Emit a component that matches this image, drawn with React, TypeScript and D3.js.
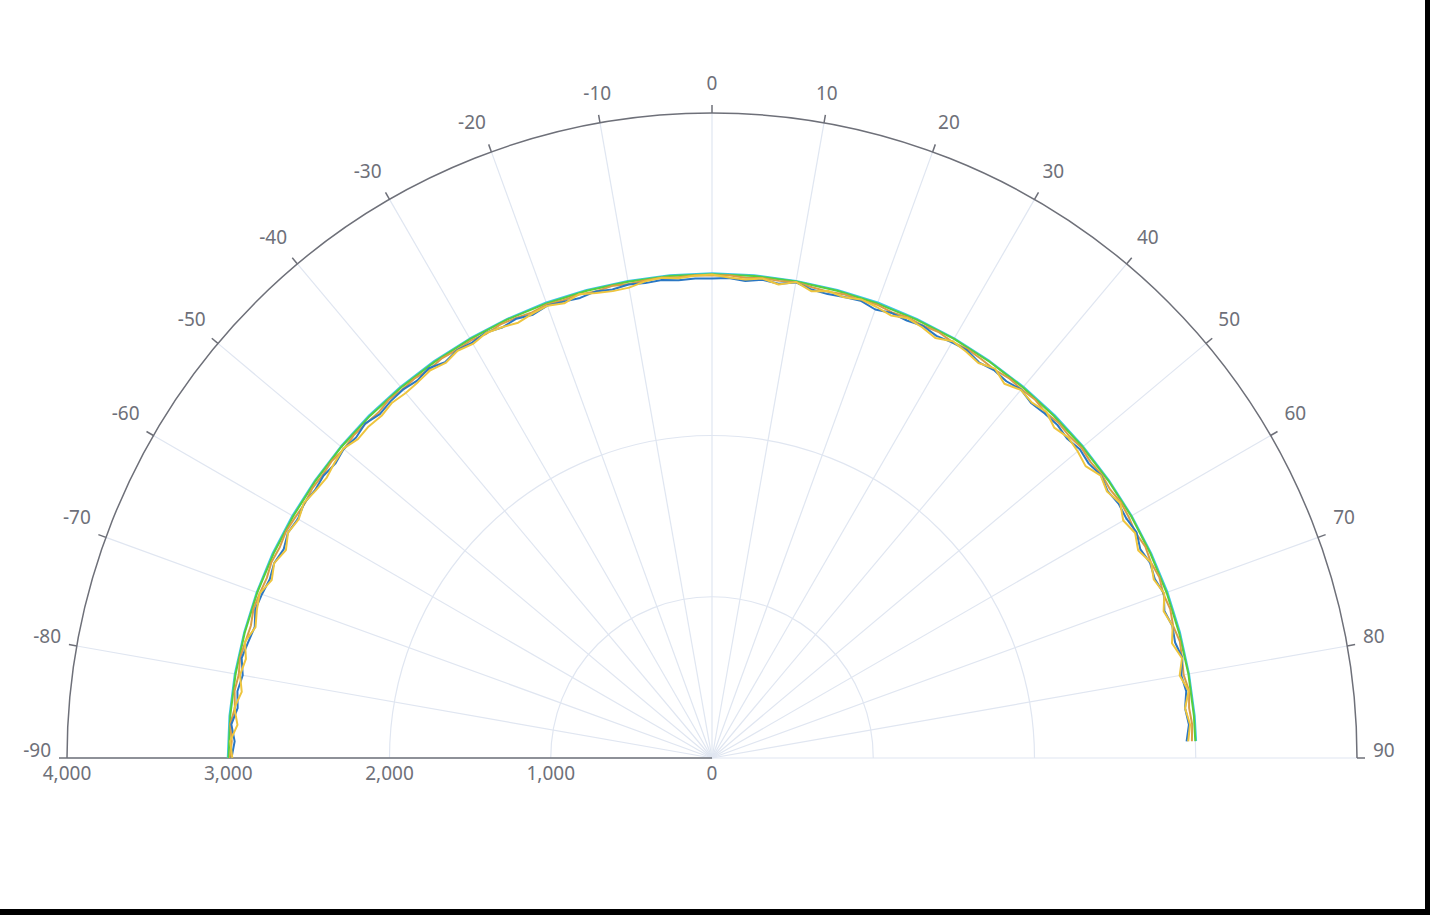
import React from "react";
import * as d3 from "d3";

// ---- data ----
const noisyAngles = [
  -90, -88, -86, -84, -82, -80, -78, -76, -74, -72, -70, -68, -66, -64, -62, -60, -58, -56, -54, -52,
  -50, -48, -46, -44, -42, -40, -38, -36, -34, -32, -30, -28, -26, -24, -22, -20, -18, -16, -14, -12,
  -10, -8, -6, -4, -2, 0, 2, 4, 6, 8, 10, 12, 14, 16, 18, 20, 22, 24, 26, 28,
  30, 32, 34, 36, 38, 40, 42, 44, 46, 48, 50, 52, 54, 56, 58, 60, 62, 64, 66, 68,
  70, 72, 74, 76, 78, 80, 82, 84, 86, 88,
];

const blueValues = [
  2980, 2962, 2988, 2958, 2972, 2955, 2982, 2965, 2950, 2978, 2970, 2958, 2972, 2955, 2978, 2965, 2982, 2970, 2978, 2965,
  2982, 2970, 2988, 2965, 2978, 2982, 2970, 2988, 2960, 2982, 2975, 2988, 2970, 2982, 2965, 2986, 2976, 2968, 2982, 2970,
  2982, 2974, 2980, 2970, 2976, 2974, 2978, 2965, 2982, 2970, 2995, 2970, 2965, 2974, 2982, 2960, 2976, 2970, 2982, 2965,
  2976, 2982, 2960, 2974, 2965, 2982, 2960, 2970, 2976, 2962, 2978, 2965, 2982, 2960, 2974, 2968, 2982, 2955, 2974, 2962,
  2982, 2950, 2970, 2960, 2982, 2955, 2970, 2950, 2965, 2945,
];

const yellowValues = [
  2975, 2990, 2950, 2978, 2945, 2972, 2955, 2985, 2945, 2968, 2985, 2945, 2972, 2940, 2978, 2960, 2985, 2965, 2955, 2972,
  2985, 2955, 2960, 2950, 2965, 2955, 2960, 2972, 2955, 2978, 2965, 2985, 2972, 2955, 2972, 2985, 2965, 2992, 2972, 2960,
  2962, 2985, 2995, 2982, 2992, 2998, 2982, 2975, 2990, 2965, 2998, 2960, 2985, 2972, 2990, 2978, 2960, 2985, 2972, 2950,
  2985, 2972, 2955, 2985, 2945, 2980, 2965, 2985, 2950, 2972, 2960, 2940, 2980, 2955, 2985, 2945, 2972, 2940, 2980, 2955,
  2985, 2945, 2972, 2940, 2980, 2945, 2985, 2950, 2972, 2955,
];

const orangeValues = [
  2990, 2980, 2995, 2975, 2990, 2980, 2992, 2982, 2975, 2990, 2985, 2978, 2990, 2982, 2992, 2985, 2978, 2990, 2985, 2992,
  2980, 2990, 2985, 2978, 2992, 2985, 2990, 2980, 2992, 2985, 2990, 2980, 2992, 2988, 2980, 2993, 2985, 2990, 2982, 2992,
  2985, 2990, 2995, 2988, 2996, 2992, 2995, 2985, 2992, 2988, 2996, 2985, 2980, 2990, 2985, 2992, 2980, 2990, 2984, 2992,
  2980, 2990, 2985, 2978, 2990, 2985, 2992, 2978, 2990, 2982, 2992, 2980, 2988, 2978, 2990, 2985, 2975, 2990, 2980, 2992,
  2978, 2988, 2975, 2990, 2980, 2970, 2988, 2975, 2985, 2978,
];

const smoothAngles = [
  -90, -85, -80, -75, -70, -65, -60, -55, -50, -45, -40, -35, -30, -25, -20, -15, -10, -5, 0,
  5, 10, 15, 20, 25, 30, 35, 40, 45, 50, 55, 60, 65, 70, 75, 80, 85, 88,
];

const greenValues = [
  2998, 2999, 3000, 3000, 3001, 3000, 2999, 3000, 3001, 3000, 3000, 2999, 3000, 3001, 3000, 3000, 2999, 3000, 3000,
  3001, 3000, 3000, 2999, 3000, 3001, 3000, 3000, 2999, 3000, 3000, 3001, 3000, 3000, 2999, 3000, 3000, 2999,
];

const cyanValues = [
  3003, 3004, 3005, 3004, 3005, 3006, 3005, 3004, 3005, 3006, 3005, 3005, 3004, 3005, 3006, 3005, 3004, 3005, 3006,
  3005, 3004, 3005, 3006, 3005, 3005, 3004, 3005, 3006, 3005, 3004, 3005, 3005, 3006, 3005, 3004, 3005, 3004,
];

const angleTicks = [-90, -80, -70, -60, -50, -40, -30, -20, -10, 0, 10, 20, 30, 40, 50, 60, 70, 80, 90];
const radiusTicks = [0, 1000, 2000, 3000, 4000];
const splitRadii = [1000, 2000, 3000];

// ---- layout ----
const W = 1430;
const H = 915;
const cx = 712;
const cy = 758;
const R = 645;
const AXIS = "#6E7079";
const SPLIT = "#E0E6F1";
const FONT = "'Microsoft YaHei', 'Noto Sans', 'Open Sans', sans-serif";
const FS = 19;

const rScale = d3.scaleLinear().domain([0, 4000]).range([0, R]);
const rad = (deg: number) => (deg * Math.PI) / 180;
const polar = (deg: number, r: number): [number, number] => [cx + r * Math.sin(rad(deg)), cy - r * Math.cos(rad(deg))];

const seriesList = [
  { name: "cyan", angles: smoothAngles, values: cyanValues, color: "#3cc6e8", width: 2 },
  { name: "green", angles: smoothAngles, values: greenValues, color: "#55cf3e", width: 2 },
  { name: "orange", angles: noisyAngles, values: orangeValues, color: "#d99e45", width: 2 },
  { name: "blue", angles: noisyAngles, values: blueValues, color: "#2a77c4", width: 2 },
  { name: "yellow", angles: noisyAngles, values: yellowValues, color: "#eec53e", width: 2 },
];

const lineGen = d3
  .lineRadial<[number, number]>()
  .angle((d) => rad(d[0]))
  .radius((d) => rScale(d[1]))
  .curve(d3.curveLinear);

const arcGen = (r: number) =>
  d3.arc()({ innerRadius: r, outerRadius: r, startAngle: rad(-90), endAngle: rad(90) }) as string;

const fmt = d3.format(",");

export default function App() {
  const labelR = 661;
  return (
    <div style={{ position: "fixed", left: 0, top: 0, width: W, height: H, background: "#fff" }}>
      <svg width={W} height={H} style={{ display: "block" }}>
        <rect x={0} y={0} width={W} height={H} fill="#fff" />
        {/* split circles */}
        {splitRadii.map((v) => (
          <path
            key={"sc" + v}
            d={arcGen(rScale(v))}
            transform={`translate(${cx},${cy})`}
            fill="none"
            stroke={SPLIT}
            strokeWidth={1.2}
          />
        ))}
        {/* radial split lines */}
        {angleTicks.map((a) => {
          const [x, y] = polar(a, R);
          return <line key={"sl" + a} x1={cx} y1={cy} x2={x} y2={y} stroke={SPLIT} strokeWidth={1.2} />;
        })}
        {/* angle axis arc */}
        <path d={arcGen(R)} transform={`translate(${cx},${cy})`} fill="none" stroke={AXIS} strokeWidth={1.5} />
        {/* angle ticks + labels */}
        {angleTicks.map((a) => {
          const [x1, y1] = polar(a, R);
          const [x2, y2] = polar(a, R + 8);
          const [lx, ly] = polar(a, labelR);
          const relX = Math.abs(lx - cx) / labelR;
          const relY = Math.abs(ly - cy) / labelR;
          const anchor = relX < 0.3 ? "middle" : lx > cx ? "start" : "end";
          let baseY = ly - 7.5;
          if (relY < 0.3) baseY = ly;
          if (Math.abs(a) === 90) baseY = ly - 1;
          return (
            <g key={"at" + a}>
              <line x1={x1} y1={y1} x2={x2} y2={y2} stroke={AXIS} strokeWidth={1.5} />
              <text x={lx} y={baseY} textAnchor={anchor} fontFamily={FONT} fontSize={FS} fill={AXIS}>
                {String(a)}
              </text>
            </g>
          );
        })}
        {/* radius axis */}
        <line x1={cx} y1={cy} x2={cx - R} y2={cy} stroke={AXIS} strokeWidth={1.5} />
        {radiusTicks.map((v) => (
          <text
            key={"rt" + v}
            x={cx - rScale(v)}
            y={cy + 22}
            textAnchor="middle"
            fontFamily={FONT}
            fontSize={FS}
            fill={AXIS}
          >
            {fmt(v)}
          </text>
        ))}
        {/* series */}
        <g transform={`translate(${cx},${cy})`}>
          {seriesList.map((s) => (
            <path
              key={s.name}
              d={lineGen(s.angles.map((a, i) => [a, s.values[i]] as [number, number])) as string}
              fill="none"
              stroke={s.color}
              strokeWidth={s.width}
              strokeLinejoin="round"
            />
          ))}
        </g>
        {/* frame */}
        <rect x={1425} y={0} width={5} height={H} fill="#000" />
        <rect x={0} y={909} width={W} height={6} fill="#000" />
      </svg>
    </div>
  );
}
